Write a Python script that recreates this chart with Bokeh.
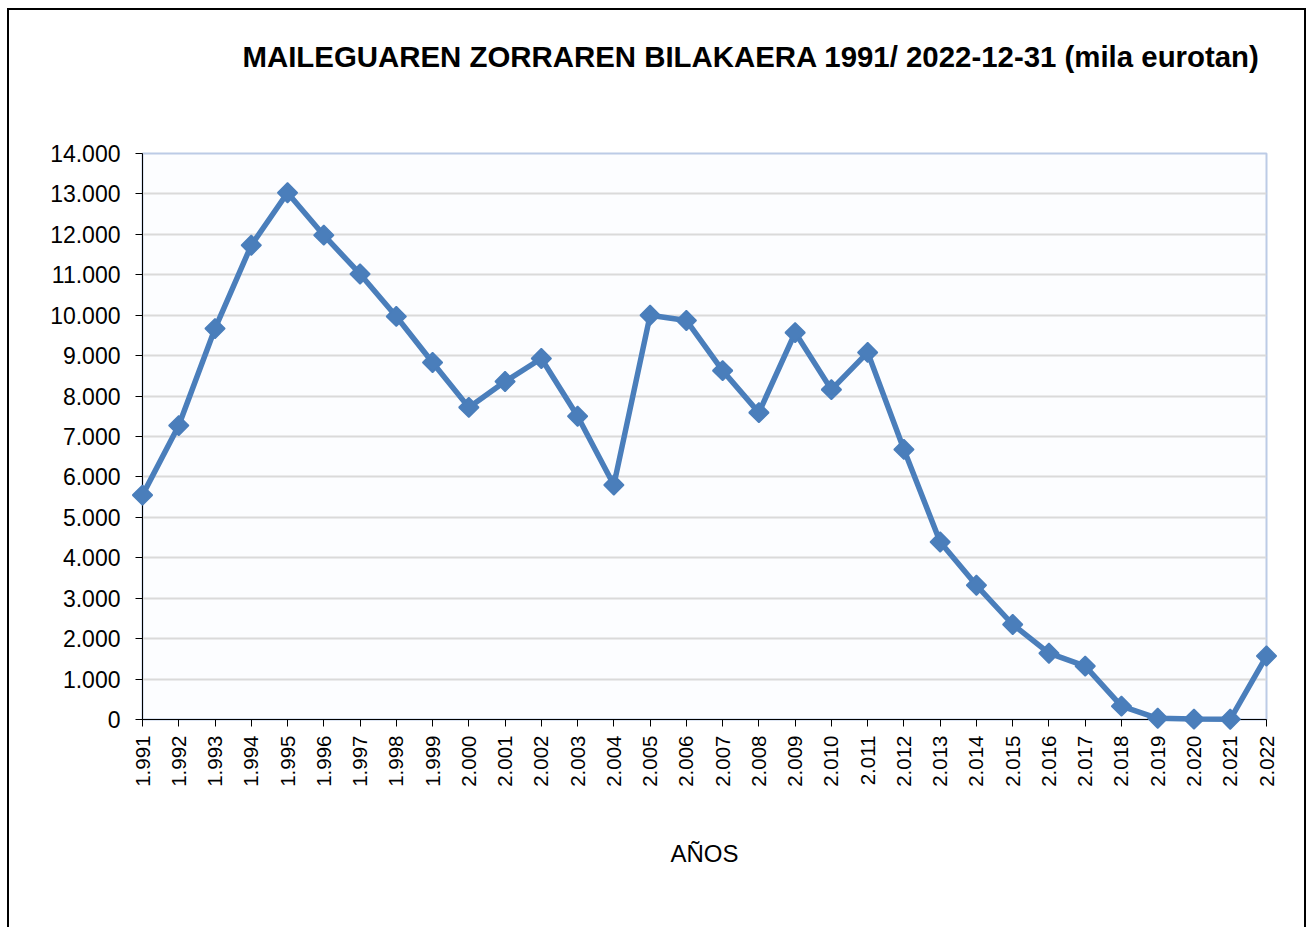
import math
from bokeh.plotting import figure
from bokeh.models import Range1d, FixedTicker, Title
from bokeh.embed import file_html
from bokeh.resources import INLINE

years = list(range(1991, 2023))
values = [5550, 7270, 9670, 11730, 13030, 11980, 11020, 9970, 8830, 7720,
          8360, 8930, 7500, 5800, 10000, 9870, 8630, 7590, 9570, 8160,
          9080, 6680, 4390, 3320, 2350, 1640, 1320, 330, 30, 10, 5, 1570]
x_labels = ["1.991", "1.992", "1.993", "1.994", "1.995", "1.996", "1.997", "1.998",
            "1.999", "2.000", "2.001", "2.002", "2.003", "2.004", "2.005", "2.006",
            "2.007", "2.008", "2.009", "2.010", "2.011", "2.012", "2.013", "2.014",
            "2.015", "2.016", "2.017", "2.018", "2.019", "2.020", "2.021", "2.022"]
y_ticks = [0, 1000, 2000, 3000, 4000, 5000, 6000, 7000, 8000, 9000, 10000,
           11000, 12000, 13000, 14000]
y_labels = ["0", "1.000", "2.000", "3.000", "4.000", "5.000", "6.000", "7.000",
            "8.000", "9.000", "10.000", "11.000", "12.000", "13.000", "14.000"]

title_text = "MAILEGUAREN ZORRAREN BILAKAERA 1991/ 2022-12-31 (mila eurotan)"
FONT = "Liberation Sans"
BLUE = "#4A7EBB"

p = figure(width=1295, height=917, output_backend="svg", toolbar_location=None,
           x_range=Range1d(years[0], years[-1]), y_range=Range1d(0, 14000),
           min_border_left=133, min_border_right=38, min_border_top=143,
           min_border_bottom=208)
p.title = None
p.styles = {
    "margin-left": "9px",
    "margin-top": "10px",
    "box-shadow": "-2px 0 0 0 black, 2px 0 0 0 black, 0 -2px 0 0 black, "
                  "-2px -2px 0 0 black, 2px -2px 0 0 black",
}

# spacer between title and plot area (added first -> closest to the frame)
spacer = Title(text=" ", text_font_size="1px", standoff=78)
p.add_layout(spacer, "above")
t = Title(text=title_text, text_font=FONT, text_font_size="29.4px",
          text_font_style="bold", text_color="black", align="left",
          offset=100, standoff=0)
p.add_layout(t, "above")

p.background_fill_color = "#fcfdff"
p.border_fill_color = "white"
p.outline_line_color = "#bccbe6"
p.outline_line_width = 2

p.xgrid.grid_line_color = None
p.ygrid.grid_line_color = "#dadada"
p.ygrid.grid_line_width = 2

p.xaxis.ticker = FixedTicker(ticks=years)
p.xaxis.major_label_overrides = {y: l for y, l in zip(years, x_labels)}
p.xaxis.major_label_orientation = math.pi / 2
p.yaxis.ticker = FixedTicker(ticks=y_ticks)
p.yaxis.major_label_overrides = {v: l for v, l in zip(y_ticks, y_labels)}

for ax in (p.xaxis[0], p.yaxis[0]):
    ax.axis_line_color = "black"
    ax.axis_line_width = 1
    ax.major_tick_line_color = "black"
    ax.major_tick_out = 7
    ax.major_tick_in = 0
    ax.minor_tick_line_color = None
    ax.major_label_text_font = FONT
    ax.major_label_text_color = "black"

p.yaxis.major_label_text_font_size = "23px"
p.yaxis.major_label_standoff = 15
p.xaxis.major_label_text_font_size = "20.5px"
p.xaxis.major_label_standoff = 9

p.xaxis.axis_label = "AÑOS"
p.xaxis.axis_label_text_font = FONT
p.xaxis.axis_label_text_font_size = "24px"
p.xaxis.axis_label_text_font_style = "normal"
p.xaxis.axis_label_text_color = "black"
p.xaxis.axis_label_standoff = 50

p.line(years, values, line_color=BLUE, line_width=5.5, level="overlay")
p.scatter(years, values, marker="square", angle=math.pi / 4, size=14,
          fill_color=BLUE, line_color=BLUE, line_width=1.5, level="overlay")

open("out.html", "w").write(file_html(p, INLINE))
